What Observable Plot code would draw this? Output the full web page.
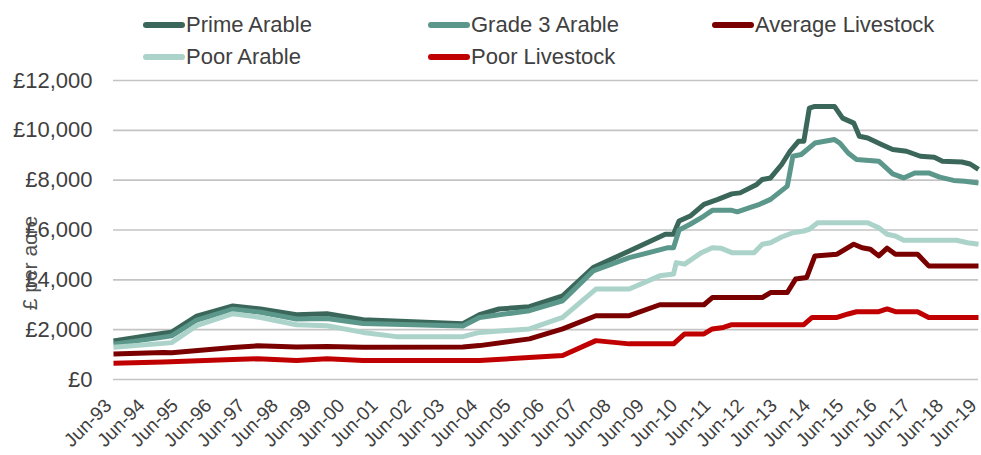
<!DOCTYPE html>
<html>
<head>
<meta charset="utf-8">
<script src="https://cdn.jsdelivr.net/npm/d3@7"></script>
<script src="https://cdn.jsdelivr.net/npm/@observablehq/plot@0.6"></script>
<style>
  html, body { margin: 0; padding: 0; background: #fff; }
  #wrap { position: relative; width: 981px; height: 455px; font-family: "Liberation Sans", Arial, sans-serif; color: #404040; overflow: hidden; }
  .leg { position: absolute; display: flex; align-items: center; font-size: 22px; line-height: 1; transform: translateY(-50%); white-space: nowrap; }
  .sw { display: inline-block; width: 42px; height: 6px; border-radius: 3px; margin-right: 1px; }
  #ylab { position: absolute; left: 30px; top: 263px; transform: translate(-50%, -50%) rotate(-90deg); font-size: 21px; color: #505050; white-space: nowrap; }
  #plot { position: absolute; left: 0; top: 75px; }
</style>
</head>
<body>
<div id="wrap">
  <div id="legend"></div>
  <div id="plot"></div>
  <div id="ylab"></div>
</div>
<script>
// ---- Data ----
const seriesNames = ["Prime Arable", "Grade 3 Arable", "Average Livestock", "Poor Arable", "Poor Livestock"];
const seriesColors = ["#3b675b", "#5b978a", "#7a0000", "#acd3ca", "#c00000"];

const primeArable = [
  ["1993-06",1550],["1994-12",1860],["1995-03",1900],["1995-12",2540],["1997-01",2950],["1997-11",2830],
  ["1998-12",2600],["1999-11",2640],["2000-12",2400],["2002-06",2320],["2003-12",2240],["2004-06",2600],
  ["2005-01",2830],["2005-12",2920],["2006-12",3360],["2007-11",4490],["2008-12",5160],["2010-01",5830],
  ["2010-04",5830],["2010-06",6360],["2010-10",6560],["2011-03",7030],["2011-08",7230],["2012-01",7450],
  ["2012-04",7490],["2012-10",7830],["2012-12",8030],["2013-03",8090],["2013-07",8630],["2013-10",9160],
  ["2014-01",9560],["2014-03",9560],["2014-05",10890],["2014-07",10960],["2015-02",10960],["2015-05",10490],
  ["2015-09",10290],["2015-11",9760],["2016-02",9690],["2016-07",9430],["2016-11",9230],["2017-04",9160],
  ["2017-09",8960],["2018-02",8920],["2018-05",8760],["2018-12",8730],["2019-03",8650],["2019-06",8430]
];
const grade3Arable = [
  ["1993-06",1420],["1994-12",1700],["1995-03",1750],["1995-12",2380],["1997-01",2820],["1997-11",2700],
  ["1998-12",2430],["1999-11",2450],["2000-12",2250],["2002-06",2200],["2003-12",2150],["2004-06",2490],
  ["2005-12",2760],["2006-12",3160],["2007-11",4360],["2008-12",4890],["2010-02",5290],["2010-04",5290],
  ["2010-06",6000],["2010-10",6230],["2011-03",6560],["2011-06",6790],["2012-01",6790],["2012-03",6730],
  ["2012-08",6920],["2012-11",7030],["2013-03",7230],["2013-08",7670],["2013-09",7760],["2013-11",8960],
  ["2014-02",9030],["2014-07",9490],["2015-02",9630],["2015-04",9490],["2015-07",9090],["2015-10",8830],
  ["2016-06",8760],["2016-08",8560],["2016-11",8250],["2017-03",8090],["2017-07",8290],["2017-12",8290],
  ["2018-04",8120],["2018-09",7990],["2019-01",7960],["2019-06",7890]
];
const averageLivestock = [
  ["1993-06",1020],["1994-12",1080],["1995-03",1070],["1997-01",1280],["1997-10",1350],["1998-12",1300],
  ["1999-11",1320],["2000-12",1290],["2003-12",1300],["2004-06",1360],["2005-12",1630],["2006-12",2030],
  ["2007-12",2560],["2008-12",2560],["2009-11",3000],["2011-03",3000],["2011-06",3290],["2012-12",3290],
  ["2013-03",3490],["2013-09",3490],["2013-12",4030],["2014-04",4090],["2014-07",4960],["2015-03",5030],
  ["2015-09",5430],["2015-12",5290],["2016-03",5230],["2016-06",4960],["2016-09",5270],["2016-12",5030],
  ["2017-08",5030],["2017-12",4560],["2019-06",4560]
];
const poorArable = [
  ["1993-06",1290],["1994-12",1450],["1995-03",1480],["1995-12",2160],["1997-01",2640],["1997-11",2490],
  ["1998-12",2200],["1999-11",2160],["2000-12",1890],["2001-12",1720],["2003-12",1720],["2004-06",1890],
  ["2005-12",2030],["2006-12",2490],["2007-12",3630],["2008-12",3630],["2009-11",4160],["2010-04",4230],
  ["2010-05",4690],["2010-08",4630],["2011-02",5090],["2011-06",5290],["2011-09",5270],["2012-01",5090],
  ["2012-09",5090],["2012-12",5430],["2013-03",5490],["2013-07",5720],["2013-11",5890],["2014-03",5960],
  ["2014-05",6030],["2014-08",6290],["2016-02",6290],["2016-06",6090],["2016-09",5830],["2016-12",5760],
  ["2017-03",5590],["2018-10",5590],["2019-02",5490],["2019-06",5430]
];
const poorLivestock = [
  ["1993-06",650],["1994-12",700],["1997-01",800],["1997-10",830],["1998-12",760],["1999-11",830],
  ["2000-12",760],["2003-12",760],["2004-06",760],["2006-12",960],["2007-12",1560],["2008-12",1430],
  ["2010-04",1430],["2010-08",1830],["2011-03",1830],["2011-06",2030],["2011-10",2090],["2012-01",2200],
  ["2014-03",2200],["2014-06",2490],["2015-03",2490],["2015-07",2630],["2015-10",2720],["2016-06",2720],
  ["2016-09",2830],["2016-12",2720],["2017-08",2720],["2017-12",2490],["2019-06",2490]
];
const seriesData = [primeArable, grade3Arable, averageLivestock, poorArable, poorLivestock];

const xTickLabels = ["Jun-93","Jun-94","Jun-95","Jun-96","Jun-97","Jun-98","Jun-99","Jun-00","Jun-01","Jun-02","Jun-03","Jun-04","Jun-05","Jun-06","Jun-07","Jun-08","Jun-09","Jun-10","Jun-11","Jun-12","Jun-13","Jun-14","Jun-15","Jun-16","Jun-17","Jun-18","Jun-19"];
const yTicks = [0, 2000, 4000, 6000, 8000, 10000, 12000];
const yLabel = "£ per acre";

// ---- Build ----
const parseYM = d3.utcParse("%Y-%m");
const parseTick = d3.utcParse("%b-%y");
const fmtTick = d3.utcFormat("%b-%y");
const xTicks = xTickLabels.map(parseTick);

const rows = [];
seriesData.forEach((arr, i) => arr.forEach(([d, v]) => rows.push({series: seriesNames[i], date: parseYM(d), value: v})));

const plot = Plot.plot({
  width: 981,
  height: 380,
  marginTop: 5,
  marginBottom: 76,
  marginLeft: 113,
  marginRight: 3,
  style: {fontFamily: "'Liberation Sans', Arial, sans-serif", fontSize: "21px", color: "#404040", background: "#fff", overflow: "visible"},
  x: {type: "utc", domain: [xTicks[0], xTicks[xTicks.length - 1]]},
  y: {domain: [0, 12000]},
  color: {domain: seriesNames, range: seriesColors},
  marks: [
    Plot.gridY(yTicks, {stroke: "#c4c4c4", strokeOpacity: 1, strokeWidth: 1.6}),
    Plot.axisY(yTicks, {tickSize: 0, tickPadding: 21, tickFormat: d => "£" + d3.format(",")(d), fontSize: 22, label: null}),
    Plot.axisX(xTicks, {tickSize: 0, tickPadding: 23, tickRotate: -45, tickFormat: fmtTick, fontSize: 19, dx: -5, label: null}),
    ...seriesNames.map((name, i) => Plot.line(rows.filter(r => r.series === name), {
      x: "date", y: "value", stroke: "series", strokeWidth: 5, strokeLinejoin: "round", strokeLinecap: "butt"
    }))
  ]
});
document.getElementById("plot").appendChild(plot);

// Legend (row-major, 3 columns)
const legendCols = [143, 428, 712];
const legendRows = [25, 57];
const legend = document.getElementById("legend");
seriesNames.forEach((name, i) => {
  const el = document.createElement("div");
  el.className = "leg";
  el.style.left = legendCols[i % 3] + "px";
  el.style.top = legendRows[Math.floor(i / 3)] + "px";
  el.innerHTML = `<span class="sw" style="background:${seriesColors[i]}"></span><span>${name}</span>`;
  legend.appendChild(el);
});
document.getElementById("ylab").textContent = yLabel;
</script>
</body>
</html>
